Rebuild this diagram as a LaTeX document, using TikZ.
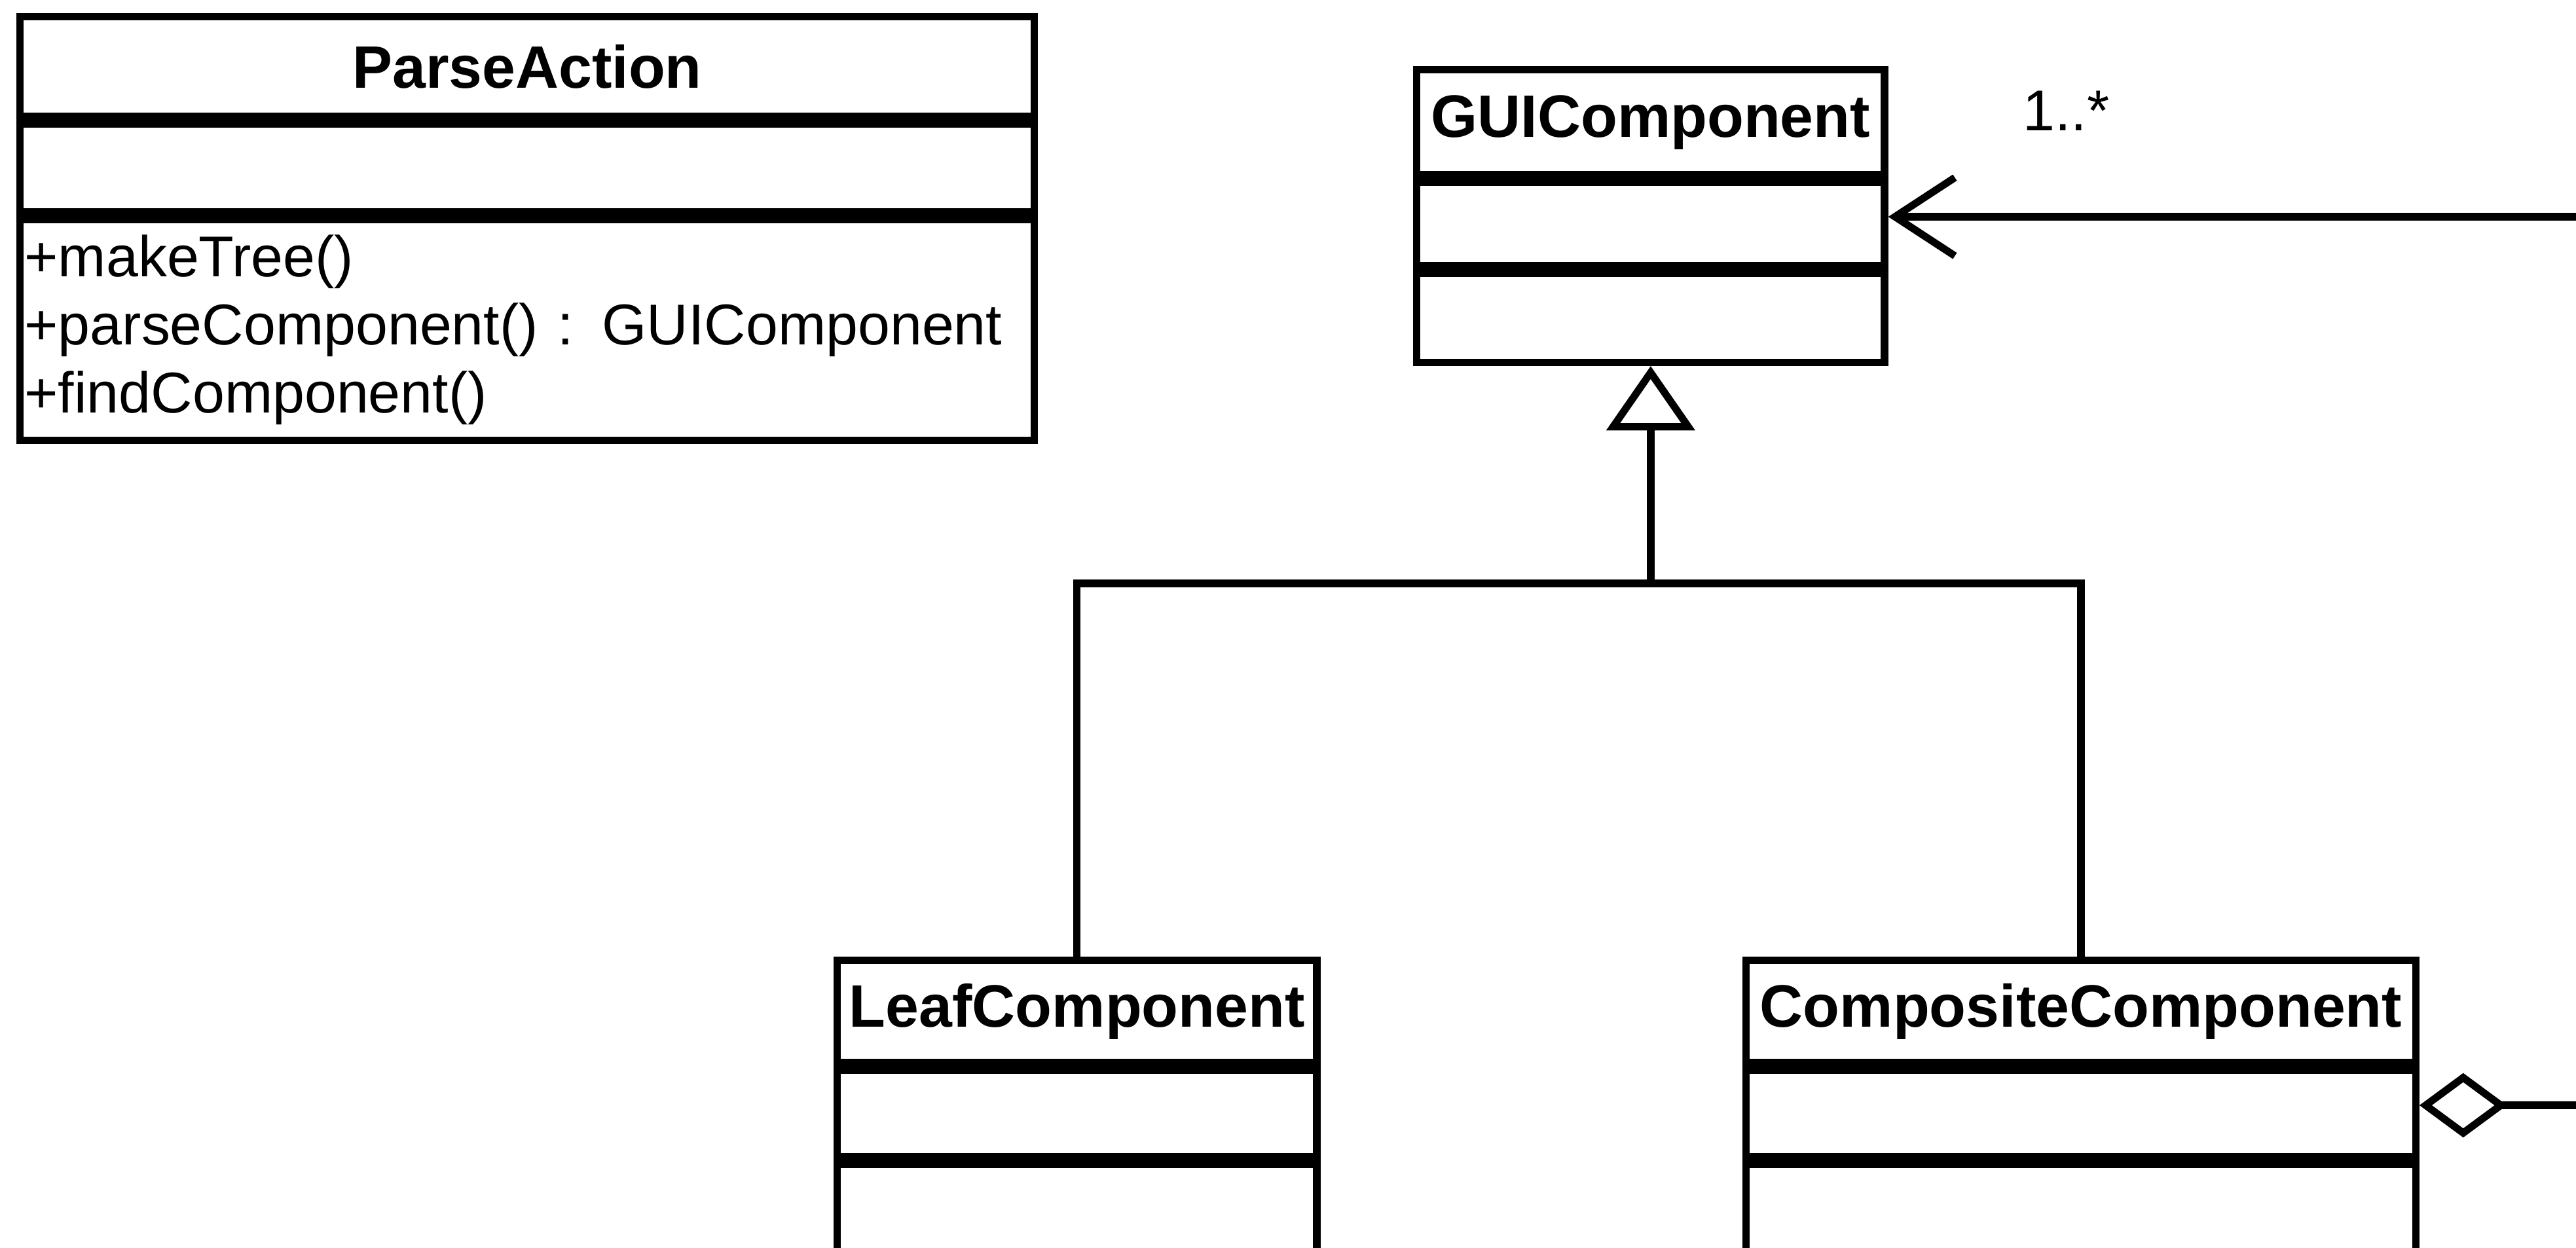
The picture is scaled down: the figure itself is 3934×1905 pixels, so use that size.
\documentclass[tikz,border=0pt]{standalone}
\usepackage{fontspec}
\setmainfont{Liberation Sans}
\usetikzlibrary{arrows.meta,positioning}

\begin{document}
\begin{tikzpicture}[
  x=0.01cm, y=-0.01cm,
  line width=3.2pt,
  classbox/.style={draw, line width=3.2pt, inner sep=2pt},
  classtitle/.style={classbox, font=\fontsize{26}{31}\selectfont\bfseries},
  classops/.style={classbox, align=left, font=\fontsize{25}{29.5}\selectfont},
  mult/.style={inner sep=0pt, font=\fontsize{25}{30}\selectfont},
  assoc/.style={-{Straight Barb[length=26pt,width=34pt]}},
  inherit/.style={-{Triangle[open,length=28pt,width=38pt]}},
  agg/.style={{Diamond[open,length=38pt,width=28pt]}-}
]
\path[fill=white, use as bounding box] (0,0) rectangle (3934,1905);
\clip (0,0) rectangle (3934,1905);

\node[classtitle, anchor=north west, minimum width=15.48cm, minimum height=1.52cm] (pa-head) at (25,20) {ParseAction};
\node[classbox, below=0pt of pa-head, minimum width=15.48cm, minimum height=1.35cm] (pa-attr) {};
\node[classops, below=0pt of pa-attr, text width=15.34cm, minimum height=3.37cm] (pa-ops) {+makeTree()\\+parseComponent() : GUIComponent\\+findComponent()};

\node[classtitle, anchor=north west, minimum width=7.14cm, minimum height=1.6cm] (gui-head) at (2158,101) {GUIComponent};
\node[classbox, below=0pt of gui-head, minimum width=7.14cm, minimum height=1.28cm] (gui-attr) {};
\node[classbox, below=0pt of gui-attr, minimum width=7.14cm, minimum height=1.36cm] (gui-ops) {};
\node[mult, right=2cm of gui-head.east, yshift=5pt] (mult) {1..*};

\node[classtitle, anchor=north west, minimum width=7.32cm, minimum height=1.56cm] (leaf-head) at (1273,1461) {LeafComponent};
\node[classbox, below=0pt of leaf-head, minimum width=7.32cm, minimum height=1.33cm] (leaf-attr) {};
\node[classbox, below=0pt of leaf-attr, minimum width=7.32cm, minimum height=2cm] (leaf-ops) {};

\node[classtitle, right=6.44cm of leaf-head, minimum width=10.22cm, minimum height=1.56cm] (comp-head) {CompositeComponent};
\node[classbox, below=0pt of comp-head, minimum width=10.22cm, minimum height=1.33cm] (comp-attr) {};
\node[classbox, below=0pt of comp-attr, minimum width=10.22cm, minimum height=2cm] (comp-ops) {};

\coordinate (bus) at (gui-ops.south |- 0,891);
\coordinate (assoc-end) at (4000,331);
\coordinate (agg-end) at (4000,1688);

\draw[inherit] (bus) -- (gui-ops.south);
\draw (leaf-head.north) |- (bus) -| (comp-head.north);
\draw[assoc] (assoc-end) -- (assoc-end -| gui-attr.east);
\draw[agg] (comp-attr.east |- agg-end) -- (agg-end);
\end{tikzpicture}
\end{document}
